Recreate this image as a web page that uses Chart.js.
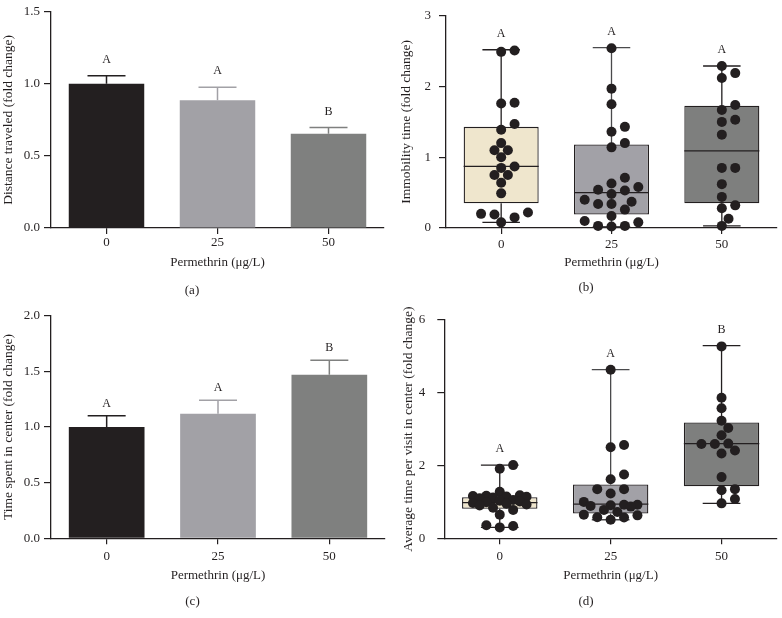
<!DOCTYPE html>
<html><head><meta charset="utf-8">
<script src="https://cdn.jsdelivr.net/npm/chart.js@4.4.1/dist/chart.umd.min.js"></script>
<style>
html,body{margin:0;padding:0;background:#fff;}
body{width:782px;height:618px;position:relative;overflow:hidden;}
.p{position:absolute;}
canvas{display:block;}
</style></head><body>
<div class="p" style="left:0;top:0"><canvas id="ca" width="391" height="300"></canvas></div>
<div class="p" style="left:391px;top:0"><canvas id="cb" width="391" height="300"></canvas></div>
<div class="p" style="left:0;top:300px"><canvas id="cc" width="391" height="318"></canvas></div>
<div class="p" style="left:391px;top:300px"><canvas id="cd" width="391" height="318"></canvas></div>
<script>
// ---------- data ----------
const categories = ['0', '25', '50'];
const xTitle = 'Permethrin (μg/L)';

// (a) distance traveled: mean and SEM
const distanceMean = [1.00, 0.886, 0.654];
const distanceSem = [0.056, 0.091, 0.043];
const distanceLetters = ['A', 'A', 'B'];
const distanceTicks = [0, 0.5, 1.0, 1.5];

// (c) time spent in center: mean and SEM
const centerMean = [1.00, 1.12, 1.47];
const centerSem = [0.10, 0.12, 0.13];
const centerLetters = ['A', 'A', 'B'];
const centerTicks = [0, 0.5, 1.0, 1.5, 2.0];

// (b) immobility time: individual values and box stats
const immobility0 = [2.51, 2.49, 1.76, 1.77, 1.47, 1.39, 1.20, 1.10, 1.10, 1.00, 0.85, 0.87, 0.75, 0.75, 0.64, 0.49, 0.22, 0.19, 0.15, 0.20, 0.08];
const immobility25 = [2.54, 1.97, 1.75, 1.43, 1.36, 1.20, 1.14, 0.71, 0.63, 0.54, 0.48, 0.53, 0.58, 0.37, 0.34, 0.26, 0.34, 0.40, 0.10, 0.03, 0.02, 0.03, 0.08, 0.17];
const immobility50 = [2.29, 2.19, 2.12, 1.74, 1.67, 1.53, 1.50, 1.32, 0.85, 0.85, 0.62, 0.44, 0.32, 0.28, 0.13, 0.03];
const immobilityMin = [0.08, 0.02, 0.03];
const immobilityQ1 = [0.35, 0.19, 0.35];
const immobilityMedian = [0.87, 0.50, 1.09];
const immobilityQ3 = [1.43, 1.18, 1.73];
const immobilityMax = [2.52, 2.55, 2.29];
const immobilityLetters = ['A', 'A', 'A'];
const immobilityTicks = [0, 1, 2, 3];

// (d) average time per visit in center
const visit0 = [2.01, 1.91, 1.28, 1.18, 1.17, 1.16, 1.15, 1.14, 1.12, 1.10, 1.05, 1.03, 1.01, 0.99, 0.97, 0.95, 0.93, 0.90, 0.84, 0.78, 0.65, 0.36, 0.30, 0.34];
const visit25 = [4.63, 2.56, 2.50, 1.75, 1.62, 1.35, 1.35, 1.23, 1.00, 0.92, 0.92, 0.91, 0.89, 0.87, 0.78, 0.72, 0.65, 0.63, 0.58, 0.57, 0.51];
const visit50 = [5.27, 3.86, 3.57, 3.23, 3.03, 2.83, 2.60, 2.59, 2.59, 2.41, 2.33, 1.68, 1.35, 1.32, 1.08, 0.96];
const visitMin = [0.30, 0.51, 0.96];
const visitQ1 = [0.81, 0.68, 1.43];
const visitMedian = [0.98, 0.94, 2.60];
const visitQ3 = [1.13, 1.48, 3.18];
const visitMax = [2.01, 4.63, 5.29];
const visitLetters = ['A', 'A', 'B'];
const visitTicks = [0, 2, 4, 6];

// ---------- styles ----------
const INK = '#231f20';
const barColors = ['#231f20', '#a2a1a6', '#7f807f'];
const boxColors = ['#efe6cd', '#a2a1a7', '#7e7f7e'];
const whiskerColors = ['#231f20', '#4a4a4c', '#231f20'];

Chart.defaults.font.family = "'Liberation Serif', 'DejaVu Serif', serif";
Chart.defaults.font.size = 13;
Chart.defaults.color = INK;

// ---------- plugins ----------
const errorBarPlugin = {
  id: 'errbars',
  afterDatasetDraw(chart, args) {
    const ds = chart.data.datasets[args.index];
    if (!ds.sem) return;
    const y = chart.scales.y, ctx = chart.ctx;
    ctx.save();
    ctx.lineWidth = 1.5;
    args.meta.data.forEach((bar, i) => {
      const base = y.getPixelForValue(ds.data[i]);
      const top = y.getPixelForValue(ds.data[i] + ds.sem[i]);
      ctx.strokeStyle = barColors[i];
      ctx.beginPath();
      ctx.moveTo(bar.x, base); ctx.lineTo(bar.x, top);
      ctx.moveTo(bar.x - 19, top); ctx.lineTo(bar.x + 19, top);
      ctx.stroke();
    });
    ctx.restore();
  }
};

const boxPlugin = {
  id: 'boxwhisk',
  afterDatasetDraw(chart, args) {
    const ds = chart.data.datasets[args.index];
    if (!ds.box) return;
    const y = chart.scales.y, ctx = chart.ctx;
    ctx.save();
    ctx.lineWidth = 1.3;
    args.meta.data.forEach((bar, i) => {
      const x = bar.x, half = bar.width / 2, cap = bar.width / 4;
      const pMin = y.getPixelForValue(ds.box.min[i]);
      const pMax = y.getPixelForValue(ds.box.max[i]);
      const pMed = y.getPixelForValue(ds.box.med[i]);
      const pQ1 = y.getPixelForValue(ds.data[i][0]);
      const pQ3 = y.getPixelForValue(ds.data[i][1]);
      ctx.strokeStyle = whiskerColors[i];
      ctx.beginPath();
      ctx.moveTo(x, pQ3); ctx.lineTo(x, pMax);
      ctx.moveTo(x - cap, pMax); ctx.lineTo(x + cap, pMax);
      ctx.moveTo(x, pQ1); ctx.lineTo(x, pMin);
      ctx.moveTo(x - cap, pMin); ctx.lineTo(x + cap, pMin);
      ctx.stroke();
      ctx.strokeStyle = INK;
      ctx.beginPath();
      ctx.moveTo(x - half, pMed); ctx.lineTo(x + half, pMed);
      ctx.stroke();
    });
    ctx.restore();
  }
};

// beeswarm: shifts each point sideways (in pixels) so dots do not overlap,
// limited to a band around the category centre
const swarmPlugin = {
  id: 'swarm',
  afterDatasetsUpdate(chart) {
    chart.data.datasets.forEach((ds, di) => {
      if (!ds.swarm) return;
      const meta = chart.getDatasetMeta(di);
      const r = ds.pointRadius;
      const minDist = 2 * r * 0.95;
      const step = 2 * r * 0.67;
      const maxM = 4;
      const groups = {};
      meta.data.forEach((el, i) => {
        const k = ds.data[i].x;
        (groups[k] = groups[k] || []).push(el);
      });
      Object.values(groups).forEach(els => {
        els.sort((a, b) => b.y - a.y);
        const placed = [];
        els.forEach(el => {
          const bx = el.x;
          let best = null, bestD = -1, done = false;
          for (let k = 0; k <= 2 * maxM; k++) {
            const m = k === 0 ? 0 : (k % 2 ? Math.ceil(k / 2) : -Math.ceil(k / 2));
            const x = bx + m * step;
            let dmin = Infinity;
            placed.forEach(p => { dmin = Math.min(dmin, Math.hypot(p.x - x, p.y - el.y)); });
            if (dmin >= minDist) { el.x = x; done = true; break; }
            if (dmin > bestD) { bestD = dmin; best = x; }
          }
          if (!done) el.x = best;
          placed.push(el);
        });
      });
    });
  }
};

const letterPlugin = {
  id: 'letters',
  afterDraw(chart) {
    const ds = chart.data.datasets[0];
    const y = chart.scales.y, xs = chart.scales.x, ctx = chart.ctx;
    ctx.save();
    ctx.fillStyle = INK;
    ctx.font = "12px 'Liberation Serif', serif";
    ctx.textAlign = 'center';
    ctx.textBaseline = 'middle';
    ds.letters.forEach((t, i) => {
      const py = y.getPixelForValue(ds.letterBase[i]) - chart.options.letterGap;
      ctx.fillText(t, xs.getPixelForValue(i), py);
    });
    ctx.restore();
  }
};

// ---------- builders ----------
function scales(c) {
  return {
    x: {
      type: 'category', offset: true,
      grid: { display: true, offset: false, drawOnChartArea: false, drawTicks: true, tickLength: 6, color: INK, lineWidth: 1.2 },
      border: { display: true, color: INK, width: 1.3 },
      ticks: { padding: c.xTickPad, color: INK, font: { size: 13 } },
      title: { display: true, text: xTitle, color: INK, font: { size: 13 }, padding: { top: 0, bottom: c.xTitlePad } },
      afterFit: s => { s.height = c.xHeight; }
    },
    y: {
      type: 'linear', min: c.ticks[0], max: c.ticks[c.ticks.length - 1],
      afterBuildTicks: s => { s.ticks = c.ticks.map(v => ({ value: v })); },
      grid: { display: true, drawOnChartArea: false, drawTicks: true, tickLength: 7, color: INK, lineWidth: 1.2 },
      border: { display: true, color: INK, width: 1.3 },
      ticks: { padding: c.yTickPad, color: INK, font: { size: 13 }, callback: v => c.fmt(v) },
      title: { display: true, text: c.yTitle, color: INK, font: { size: 13.5 }, padding: { top: c.yTitlePad, bottom: 0 } },
      afterFit: s => { s.width = c.yWidth; }
    }
  };
}

function baseOptions(c) {
  return {
    responsive: false, animation: false, events: [],
    layout: { padding: { top: c.padTop, right: c.padRight, left: 0, bottom: 0 } },
    letterGap: c.letterGap,
    plugins: {
      legend: { display: false }, tooltip: { enabled: false },
      title: { display: true, position: 'bottom', text: c.panel, color: INK,
        font: { size: 13, weight: 'normal' }, padding: { top: c.panelTop, bottom: c.panelBottom } }
    },
    scales: scales(c)
  };
}

function barChart(id, mean, sem, letters, c) {
  return new Chart(document.getElementById(id), {
    type: 'bar',
    data: { labels: categories, datasets: [{
      data: mean, backgroundColor: barColors, borderWidth: 0,
      barPercentage: 0.68, categoryPercentage: 1,
      sem: sem, letters: letters, letterBase: mean.map((m, i) => m + sem[i])
    }] },
    options: baseOptions(c),
    plugins: [errorBarPlugin, letterPlugin]
  });
}

function boxChart(id, groups, q1, med, q3, mn, mx, letters, c) {
  const pts = [];
  groups.forEach((g, gi) => g.forEach(v => pts.push({ x: categories[gi], y: v })));
  return new Chart(document.getElementById(id), {
    type: 'bar',
    data: { labels: categories, datasets: [
      { type: 'bar', order: 1, data: q1.map((q, i) => [q, q3[i]]),
        backgroundColor: boxColors, borderColor: INK, borderWidth: 1.3, borderSkipped: false,
        barPercentage: 0.68, categoryPercentage: 1,
        box: { min: mn, med: med, max: mx }, letters: letters, letterBase: mx },
      { type: 'line', order: 0, data: pts, showLine: false, swarm: true, clip: false,
        pointRadius: 5, pointHoverRadius: 5, pointBackgroundColor: INK, pointBorderWidth: 0, borderColor: INK }
    ] },
    options: baseOptions(c),
    plugins: [boxPlugin, swarmPlugin, letterPlugin]
  });
}

const fmt1 = v => Number(v).toFixed(1);
const fmt0 = v => String(v);

barChart('ca', distanceMean, distanceSem, distanceLetters, {
  ticks: distanceTicks, fmt: fmt1, yTitle: 'Distance traveled (fold change)', panel: '(a)',
  padTop: 5, padRight: 7, yWidth: 51, yTickPad: 4, yTitlePad: 0,
  xHeight: 48.4, xTickPad: 1.2, xTitlePad: 5.6, panelTop: 6, panelBottom: 2, letterGap: 16
});

boxChart('cb', [immobility0, immobility25, immobility50], immobilityQ1, immobilityMedian, immobilityQ3,
  immobilityMin, immobilityMax, immobilityLetters, {
  ticks: immobilityTicks, fmt: fmt0, yTitle: 'Immobility time (fold change)', panel: '(b)',
  padTop: 5, padRight: 1, yWidth: 55, yTickPad: 8, yTitlePad: 7.2,
  xHeight: 48.4, xTickPad: 3.2, xTitlePad: 5.6, panelTop: 3.8, panelBottom: 4.2, letterGap: 16
});

barChart('cc', centerMean, centerSem, centerLetters, {
  ticks: centerTicks, fmt: fmt1, yTitle: 'Time spent in center (fold change)', panel: '(c)',
  padTop: 15.7, padRight: 6, yWidth: 51, yTickPad: 4, yTitlePad: 0,
  xHeight: 51.6, xTickPad: 4.6, xTitlePad: 6.4, panelTop: 4, panelBottom: 8.5, letterGap: 12.5
});

boxChart('cd', [visit0, visit25, visit50], visitQ1, visitMedian, visitQ3, visitMin, visitMax, visitLetters, {
  ticks: visitTicks, fmt: fmt0, yTitle: 'Average time per visit in center (fold change)', panel: '(d)',
  padTop: 15.7, padRight: 1, yWidth: 53.3, yTickPad: 12, yTitlePad: 9.7,
  xHeight: 51.6, xTickPad: 4.6, xTitlePad: 6.4, panelTop: 4, panelBottom: 8.5, letterGap: 16
});
</script>
</body></html>
